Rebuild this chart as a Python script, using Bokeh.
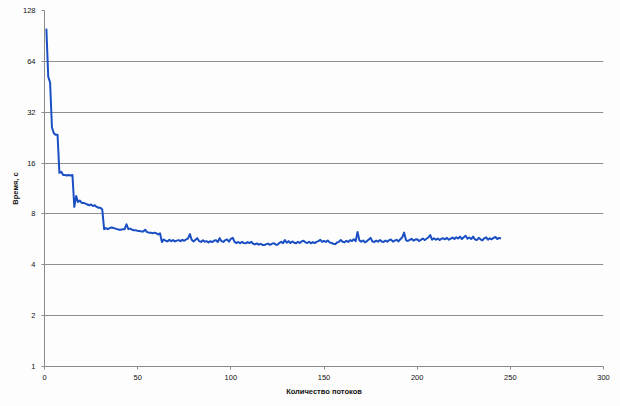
from bokeh.plotting import figure
from bokeh.models import Range1d, FixedTicker, NumeralTickFormatter, ColumnDataSource
from bokeh.embed import file_html
from bokeh.resources import INLINE

x_ticks = [0, 50, 100, 150, 200, 250, 300]
y_ticks = [1, 2, 4, 8, 16, 32, 64, 128]
x_title = "Количество потоков"
y_title = "Время, с"

times = [
    100, 52, 48, 26, 24, 23.5, 23.5, 14.0, 14.2, 13.6,
    13.6, 13.5, 13.6, 13.5, 13.6, 8.8, 10.2, 9.4, 9.6, 9.3,
    9.3, 9.2, 9.1, 9.0, 9.1, 8.9, 9.0, 8.8, 8.7, 8.7,
    8.5, 6.5, 6.6, 6.5, 6.6, 6.65, 6.6, 6.55, 6.5, 6.45,
    6.45, 6.5, 6.5, 6.95, 6.5, 6.55, 6.45, 6.4, 6.4, 6.35,
    6.35, 6.3, 6.3, 6.45, 6.25, 6.2, 6.2, 6.15, 6.2, 6.15,
    6.05, 6.15, 5.45, 5.65, 5.55, 5.50, 5.62, 5.52, 5.60, 5.50,
    5.56, 5.60, 5.52, 5.62, 5.55, 5.65, 5.72, 6.08, 5.62, 5.50,
    5.62, 5.75, 5.52, 5.46, 5.58, 5.48, 5.52, 5.42, 5.52, 5.45,
    5.55, 5.60, 5.46, 5.75, 5.52, 5.46, 5.60, 5.65, 5.48, 5.70,
    5.78, 5.46, 5.38, 5.46, 5.36, 5.47, 5.38, 5.36, 5.45, 5.38,
    5.47, 5.33, 5.28, 5.35, 5.26, 5.32, 5.24, 5.23, 5.30, 5.34,
    5.25, 5.32, 5.37, 5.28, 5.26, 5.38, 5.48, 5.36, 5.60, 5.40,
    5.52, 5.38, 5.50, 5.40, 5.36, 5.48, 5.38, 5.50, 5.55, 5.43,
    5.38, 5.48, 5.36, 5.45, 5.38, 5.47, 5.52, 5.62, 5.46, 5.54,
    5.46, 5.57, 5.43, 5.38, 5.33, 5.30, 5.42, 5.47, 5.60, 5.48,
    5.43, 5.55, 5.46, 5.60, 5.53, 5.67, 5.52, 6.25, 5.58, 5.48,
    5.57, 5.43, 5.52, 5.64, 5.77, 5.50, 5.46, 5.57, 5.48, 5.60,
    5.50, 5.46, 5.57, 5.48, 5.60, 5.64, 5.48, 5.57, 5.62, 5.50,
    5.67, 5.82, 6.20, 5.60, 5.53, 5.62, 5.70, 5.56, 5.64, 5.67,
    5.53, 5.62, 5.72, 5.60, 5.70, 5.80, 6.00, 5.63, 5.74, 5.63,
    5.72, 5.60, 5.70, 5.74, 5.66, 5.77, 5.63, 5.72, 5.80, 5.68,
    5.82, 5.73, 5.87, 5.68, 5.82, 5.94, 5.70, 5.80, 5.68, 5.87,
    5.66, 5.60, 5.77, 5.66, 5.58, 5.74, 5.82, 5.63, 5.74, 5.66,
    5.77, 5.84, 5.68, 5.77, 5.72,
]
threads = list(range(1, len(times) + 1))

src = ColumnDataSource(data=dict(threads=threads, times=times))

p = figure(width=620, height=406, y_axis_type="log",
           x_range=Range1d(0, 300), y_range=Range1d(1, 128),
           output_backend="svg", toolbar_location=None,
           min_border_left=44, min_border_top=10, min_border_right=17, min_border_bottom=40)
p.outline_line_color = None
p.background_fill_color = "#fdfdfd"
p.border_fill_color = "#fdfdfd"

p.line("threads", "times", source=src, line_color="#1a4fc4", line_width=2, line_join="round")

font = "Liberation Sans"
for ax in (p.xaxis[0], p.yaxis[0]):
    ax.axis_line_color = "#8a8a8a"
    ax.major_tick_line_color = "#8a8a8a"
    ax.major_tick_in = 0
    ax.major_tick_out = 3
    ax.minor_tick_line_color = None
    ax.major_label_text_font = font
    ax.major_label_text_font_size = "7.5px"
    ax.major_label_text_color = "#111111"
    ax.axis_label_text_font = font
    ax.axis_label_text_font_size = "7.5px"
    ax.axis_label_text_font_style = "bold"
    ax.axis_label_text_color = "#111111"

p.xaxis.ticker = FixedTicker(ticks=x_ticks)
p.yaxis.ticker = FixedTicker(ticks=y_ticks)
p.yaxis.formatter = NumeralTickFormatter(format="0")
p.xaxis.axis_label = x_title
p.yaxis.axis_label = y_title
p.xaxis.major_label_standoff = 5
p.xaxis.axis_label_standoff = 4
p.yaxis.major_label_standoff = 6
p.yaxis.axis_label_standoff = 0

p.xgrid.grid_line_color = None
p.ygrid.grid_line_color = "#8f8f8f"
p.ygrid.grid_line_width = 1

open("out.html", "w").write(file_html(p, INLINE))
